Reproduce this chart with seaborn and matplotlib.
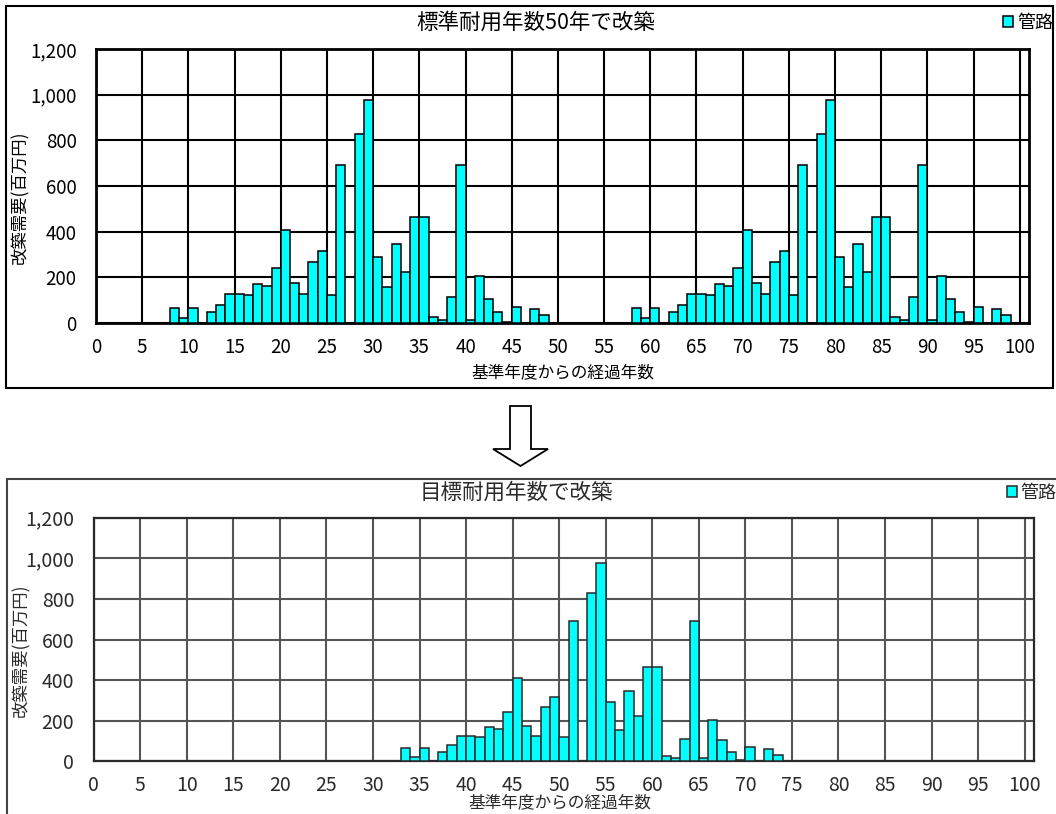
import numpy as np
import pandas as pd
import matplotlib
matplotlib.use("Agg")
import matplotlib.pyplot as plt
import seaborn as sns
from matplotlib.patches import Polygon, Rectangle
from matplotlib.ticker import FuncFormatter

# ---------------- data ----------------
first_year = 8
renewal_cost = [64, 20, 64, 0, 46, 81, 126, 126, 121, 169, 161, 243, 409, 176,
                126, 268, 317, 121, 692, 0, 829, 977, 291, 156, 346, 225, 464,
                464, 28, 15, 112, 692, 15, 204, 106, 46, 4, 70, 0, 62, 33]
standard_cycle = 50      # second renewal wave in the upper chart
target_shift = 25        # shift of the wave in the lower chart
titles = ["標準耐用年数50年で改築", "目標耐用年数で改築"]
series_name = "管路"
x_label = "基準年度からの経過年数"
y_label = "改築需要(百万円)"
x_ticks = list(range(0, 101, 5))
y_ticks = list(range(0, 1201, 200))

base_years = np.arange(first_year, first_year + len(renewal_cost))
top_df = pd.DataFrame({
    "year": np.concatenate([base_years, base_years + standard_cycle]),
    "cost": renewal_cost * 2,
})
bottom_df = pd.DataFrame({"year": base_years + target_shift, "cost": renewal_cost})
for df in (top_df, bottom_df):
    df["pos"] = df["year"] + 0.5

# ---------------- style ----------------
sns.set_style("white")
plt.rcParams["font.family"] = ["Noto Sans CJK JP", "DejaVu Sans"]

W, H = 1056, 814
fig = plt.figure(figsize=(W / 100, H / 100), dpi=100)


def fx(px):
    return px / W


def fy(py):
    return 1 - py / H


def make_chart(df, rect, title, title_xy, ylab_xy, xlab_xy, legend_xy, legend_loc,
               ink, grid_color, tick_size, frame_lw, xpad):
    left, top, right, bottom = rect
    ax = fig.add_axes([fx(left), fy(bottom), fx(right - left), (bottom - top) / H])
    sns.barplot(data=df, x="pos", y="cost", native_scale=True, width=1.0,
                color="#00FFFF", saturation=1, edgecolor=ink, linewidth=1.1,
                errorbar=None, label=series_name, ax=ax, zorder=3)
    ax.set_xlim(0, 101)
    ax.set_ylim(0, 1200)
    ax.set_xticks(x_ticks)
    ax.set_yticks(y_ticks)
    ax.yaxis.set_major_formatter(FuncFormatter(lambda v, p: f"{int(v):,}"))
    ax.grid(True, color=grid_color, linewidth=1.5, zorder=0)
    ax.set_axisbelow(True)
    for s in ax.spines.values():
        s.set_visible(True)
        s.set_color(ink)
        s.set_linewidth(frame_lw)
    ax.tick_params(axis="both", length=0, labelsize=tick_size, colors=ink)
    ax.tick_params(axis="x", pad=xpad)
    ax.tick_params(axis="y", pad=14)
    ax.set_xlabel("")
    ax.set_ylabel("")
    fig.text(fx(title_xy[0]), fy(title_xy[1]), title, ha="center", va="center",
             fontsize=15.5, color=ink)
    fig.text(fx(ylab_xy[0]), fy(ylab_xy[1]), y_label, rotation=90, ha="center",
             va="center", fontsize=12.5, color=ink)
    fig.text(fx(xlab_xy[0]), fy(xlab_xy[1]), x_label, ha="center", va="center",
             fontsize=12, color=ink)
    ax.legend(loc=legend_loc, bbox_to_anchor=(fx(legend_xy[0]), fy(legend_xy[1])),
              bbox_transform=fig.transFigure, frameon=False, fontsize=13,
              handlelength=0.55, handleheight=0.55, handletextpad=0.2,
              borderpad=0, borderaxespad=0, labelcolor=ink)
    return ax


# upper chart
make_chart(top_df, (96, 49, 1029, 323), titles[0], (536, 23), (20, 197), (563, 373),
           (1053, 23), "center right", "black", "black", 13.5, 2.0, 10)
# lower chart
make_chart(bottom_df, (93.7, 517.7, 1034, 761.3), titles[1], (516, 493), (21, 650),
           (560, 803), (1007, 493), "center left", "#2a2a2a", "#555555", 14, 1.6, 10)

# frames around each chart
fig.patches.append(Rectangle((fx(6), fy(388)), fx(1053 - 6), (388 - 6) / H,
                             transform=fig.transFigure, fill=False,
                             edgecolor="black", linewidth=1.5, zorder=10))
fig.patches.append(Rectangle((fx(7), fy(840)), fx(1080 - 7), (840 - 479) / H,
                             transform=fig.transFigure, fill=False,
                             edgecolor="#444444", linewidth=1.5, zorder=10))

# hollow down arrow between the charts
arrow_px = [(510, 406), (531, 406), (531, 449), (548, 449), (520.5, 466),
            (493, 449), (510, 449)]
fig.patches.append(Polygon([(fx(x), fy(y)) for x, y in arrow_px], closed=True,
                           transform=fig.transFigure, facecolor="white",
                           edgecolor="black", linewidth=1.3, zorder=10))

fig.savefig("out.png", dpi=100)
